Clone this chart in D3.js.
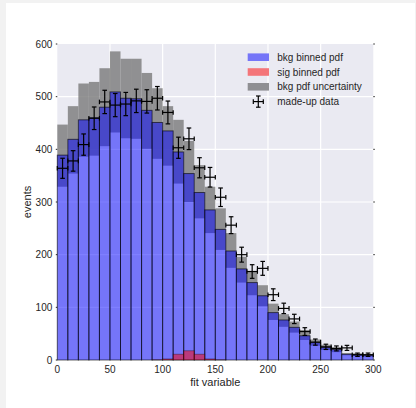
<!DOCTYPE html>
<html>
<head>
<meta charset="utf-8">
<script src="https://cdn.jsdelivr.net/npm/d3@7"></script>
<style>
  body { margin: 0; background: #f2f2f2; }
  svg { display: block; font-family: "Liberation Sans", Arial, sans-serif; }
</style>
</head>
<body>
<svg id="chart" width="416" height="408"></svg>
<script>
// bin edges: 30 bins of width 10 between 0 and 300
var binStart = d3.range(0, 300, 10);

// bkg binned pdf (bar height)
var bkg = [389, 419, 456, 460, 480, 509, 497, 496, 474, 451,
           435, 395, 354, 318, 285, 248, 207, 173, 147, 122,
           90, 76, 62, 46, 33, 24, 20, 11, 10, 9];
// bkg pdf uncertainty band (low / high)
var bandLow = [329, 354, 386, 388, 406, 432, 421, 420, 401, 382,
               369, 335, 300, 269, 241, 209, 175, 147, 123, 102,
               76, 63, 52, 38, 27, 19, 15, 9, 7.6, 6.3];
var bandHigh = [447, 482, 525, 528, 554, 586, 572, 572, 545, 516,
                482, 456, 416, 370, 329, 288, 241, 196, 168, 142,
                107, 87, 73, 57, 39, 29, 24, 13, 12.7, 11.4];
// sig binned pdf
var sig = [0, 0, 0, 0, 0, 0, 0, 0, 0, 0.4,
           2, 11, 17.5, 11, 2, 0.4, 0, 0, 0, 0,
           0, 0, 0, 0, 0, 0, 0, 0, 0, 0];
// made-up data
var data = [364, 378, 409, 459, 490, 484, 486, 492, 491, 497,
            470, 403, 420, 365, 347, 309, 256, 200, 168, 174,
            124, 98, 78, 54, 34, 25, 22, 23, 10, 10];

var xTicks = [0, 50, 100, 150, 200, 250, 300];
var yTicks = [0, 100, 200, 300, 400, 500, 600];
var legendLabels = ["bkg binned pdf", "sig binned pdf", "bkg pdf uncertainty", "made-up data"];

var svg = d3.select("#chart");

// white figure area
svg.append("rect")
  .attr("x", 6).attr("y", 3)
  .attr("width", 409).attr("height", 405)
  .style("fill", "#ffffff");

var pLeft = 57.3, pRight = 373.3, pTop = 44, pBottom = 360;

var x = d3.scaleLinear().domain([0, 300]).range([pLeft, pRight]);
var y = d3.scaleLinear().domain([0, 600]).range([pBottom, pTop]);

// plot background
svg.append("rect")
  .attr("x", pLeft).attr("y", pTop)
  .attr("width", pRight - pLeft).attr("height", pBottom - pTop)
  .style("fill", "#eaeaf2");

// grid
var grid = svg.append("g").attr("class", "grid");
grid.selectAll("line.gx")
  .data(xTicks.slice(1, -1))
  .enter().append("line")
  .attr("x1", function(d) { return x(d); })
  .attr("x2", function(d) { return x(d); })
  .attr("y1", pTop).attr("y2", pBottom)
  .style("stroke", "#ffffff").style("stroke-width", 1.2);
grid.selectAll("line.gy")
  .data(yTicks.slice(1, -1))
  .enter().append("line")
  .attr("x1", pLeft).attr("x2", pRight)
  .attr("y1", function(d) { return y(d); })
  .attr("y2", function(d) { return y(d); })
  .style("stroke", "#ffffff").style("stroke-width", 1.2);

// uncertainty band first, blue bars on top of it
svg.append("g").selectAll("rect")
  .data(binStart)
  .enter().append("rect")
  .attr("x", function(d) { return x(d); })
  .attr("width", function(d) { return x(d + 10) - x(d); })
  .attr("y", function(d, i) { return y(bandHigh[i]); })
  .attr("height", function(d, i) { return y(bandLow[i]) - y(bandHigh[i]); })
  .style("fill", "#7c7c7c")
  .style("fill-opacity", 0.82);

svg.append("g").selectAll("rect")
  .data(binStart)
  .enter().append("rect")
  .attr("x", function(d) { return x(d); })
  .attr("width", function(d) { return x(d + 10) - x(d); })
  .attr("y", function(d, i) { return y(bkg[i]); })
  .attr("height", function(d, i) { return y(0) - y(bkg[i]); })
  .style("fill", "#0000ff")
  .style("fill-opacity", 0.5)
  .style("stroke", "#000000")
  .style("stroke-opacity", 0.6)
  .style("stroke-width", 1);

svg.append("g").selectAll("rect")
  .data(binStart.filter(function(d, i) { return sig[i] > 0; }))
  .enter().append("rect")
  .attr("x", function(d) { return x(d); })
  .attr("width", function(d) { return x(d + 10) - x(d); })
  .attr("y", function(d) { return y(sig[d / 10]); })
  .attr("height", function(d) { return y(0) - y(sig[d / 10]); })
  .style("fill", "#ff0000")
  .style("fill-opacity", 0.5)
  .style("stroke", "#000000")
  .style("stroke-opacity", 0.4)
  .style("stroke-width", 0.8);

// error bars
function cross(g, cx, cy, x0, x1, y0, y1) {
  var cap = 2.3;
  g.append("line").attr("x1", x0).attr("x2", x1).attr("y1", cy).attr("y2", cy);
  g.append("line").attr("x1", cx).attr("x2", cx).attr("y1", y0).attr("y2", y1);
  g.append("line").attr("x1", cx - cap).attr("x2", cx + cap).attr("y1", y0).attr("y2", y0);
  g.append("line").attr("x1", cx - cap).attr("x2", cx + cap).attr("y1", y1).attr("y2", y1);
  g.append("line").attr("x1", x0).attr("x2", x0).attr("y1", cy - cap).attr("y2", cy + cap);
  g.append("line").attr("x1", x1).attr("x2", x1).attr("y1", cy - cap).attr("y2", cy + cap);
}

var errs = svg.append("g")
  .style("stroke", "#000000")
  .style("stroke-width", 1.2);
data.forEach(function(v, i) {
  var c = binStart[i] + 5;
  var e = Math.sqrt(v);
  cross(errs, x(c), y(v), x(c - 5), x(c + 5), y(v + e), y(v - e));
});

// axes ticks (tiny) and labels
var axisCol = "#262626";
var yax = svg.append("g");
yax.selectAll("text")
  .data(yTicks)
  .enter().append("text")
  .attr("x", pLeft - 5)
  .attr("y", function(d) { return y(d) + 3.6; })
  .attr("text-anchor", "end")
  .style("font-size", "10px")
  .style("fill", axisCol)
  .text(function(d) { return d; });
yax.selectAll("line.tl")
  .data(yTicks)
  .enter().append("line")
  .attr("x1", pLeft - 1.5).attr("x2", pLeft)
  .attr("y1", function(d) { return y(d); })
  .attr("y2", function(d) { return y(d); })
  .style("stroke", axisCol);
yax.selectAll("line.tr")
  .data(yTicks)
  .enter().append("line")
  .attr("x1", pRight).attr("x2", pRight + 1.5)
  .attr("y1", function(d) { return y(d); })
  .attr("y2", function(d) { return y(d); })
  .style("stroke", axisCol);

svg.append("g").selectAll("text")
  .data(xTicks)
  .enter().append("text")
  .attr("x", function(d) { return x(d); })
  .attr("y", 373)
  .attr("text-anchor", "middle")
  .style("font-size", "10px")
  .style("fill", axisCol)
  .text(function(d) { return d; });

svg.append("text")
  .attr("x", (pLeft + pRight) / 2)
  .attr("y", 386)
  .attr("text-anchor", "middle")
  .style("font-size", "11px")
  .style("fill", axisCol)
  .text("fit variable");

svg.append("text")
  .attr("transform", "translate(30.5," + (pTop + pBottom) / 2 + ") rotate(-90)")
  .attr("text-anchor", "middle")
  .style("font-size", "11px")
  .style("fill", axisCol)
  .text("events");

// legend
var leg = svg.append("g").attr("transform", "translate(247.7,57.2)");
var swatchFill = ["#7575f8", "#f47579", "#8f8f93"];
legendLabels.forEach(function(t, i) {
  var cy = i * 14.8;
  if (i < 3) {
    leg.append("rect")
      .attr("x", 0).attr("y", cy - 3.8)
      .attr("width", 21.3).attr("height", 7.6)
      .style("fill", swatchFill[i]);
  } else {
    var lg = leg.append("g").style("stroke", "#000").style("stroke-width", 1.2);
    cross(lg, 10.6, cy, 5.6, 15.6, cy - 5.6, cy + 5.6);
  }
  leg.append("text")
    .attr("x", 29.6)
    .attr("y", cy + 3.6)
    .style("font-size", "10px")
    .style("fill", axisCol)
    .text(t);
});
</script>
</body>
</html>
